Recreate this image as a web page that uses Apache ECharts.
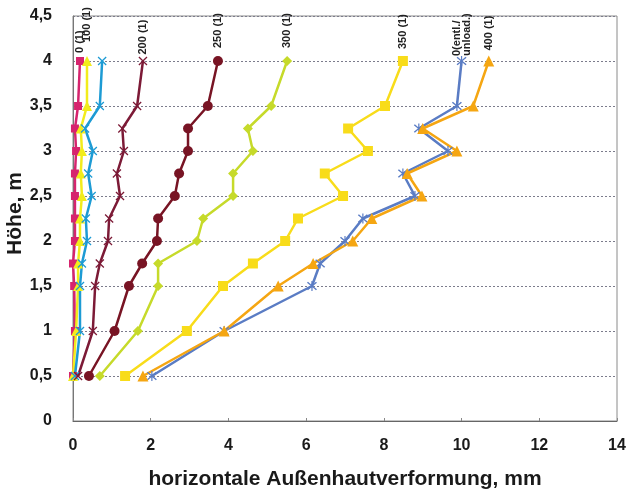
<!DOCTYPE html>
<html>
<head>
<meta charset="utf-8">
<script src="https://cdn.jsdelivr.net/npm/echarts@6/dist/echarts.min.js"></script>
<style>
  html, body { margin: 0; padding: 0; background: #fff; }
  #chart { width: 630px; height: 495px; }
</style>
</head>
<body>
<div id="chart"></div>
<script>
// Measurement heights (m) shared by every load step
const heights = [0.5, 1, 1.5, 1.75, 2, 2.25, 2.5, 2.75, 3, 3.25, 3.5, 4];

// Horizontal deformation of the outer skin (mm) per load step
const s0      = [0, 0.05, 0.03, 0.0, 0.05, 0.05, 0.05, 0.05, 0.08, 0.05, 0.13, 0.18];
const s100    = [0, 0.08, 0.13, 0.13, 0.18, 0.18, 0.23, 0.2, 0.23, 0.2, 0.36, 0.36];
const s150    = [0.05, 0.18, 0.18, 0.23, 0.36, 0.33, 0.48, 0.39, 0.51, 0.31, 0.69, 0.75];
const s200    = [0.13, 0.51, 0.57, 0.69, 0.9, 0.93, 1.21, 1.13, 1.31, 1.27, 1.65, 1.8];
const s250    = [0.41, 1.07, 1.44, 1.78, 2.16, 2.19, 2.62, 2.73, 2.96, 2.96, 3.47, 3.73];
const s300    = [0.69, 1.67, 2.19, 2.19, 3.19, 3.35, 4.12, 4.12, 4.63, 4.5, 5.1, 5.51];
const s350    = [1.34, 2.93, 3.86, 4.63, 5.46, 5.79, 6.95, 6.48, 7.59, 7.08, 8.03, 8.49];
const sUnload = [2.03, 3.89, 6.15, 6.36, 7.0, 7.46, 8.8, 8.49, 9.65, 8.9, 9.88, 10.0];
const s400    = [1.8, 3.89, 5.28, 6.18, 7.2, 7.69, 8.98, 8.6, 9.88, 9.0, 10.3, 10.7];

// Axis ticks
const xTicks = [0, 2, 4, 6, 8, 10, 12, 14];
const yTicks = [0, 0.5, 1, 1.5, 2, 2.5, 3, 3.5, 4, 4.5];

const FONT = 'Liberation Sans, Arial, sans-serif';
const XMARK = 'path://M0,1L1,0L5,4L9,0L10,1L6,5L10,9L9,10L5,6L1,10L0,9L4,5Z';
const STAR  = 'path://M0,1L1,0L5,4L9,0L10,1L6,5L10,9L9,10L5,6L1,10L0,9L4,5Z M4.4,-1L5.6,-1L5.6,11L4.4,11Z';

// Series styling; gap/shift place the rotated name above the topmost point
const defs = [
  { name: '0 (1)',              values: s0,      color: '#d6246e', symbol: 'rect',     size: 8,  gap: 7,  shift: -3 },
  { name: '100 (1)',            values: s100,    color: '#f2ec1c', symbol: 'triangle', size: 10, gap: 12, shift: 2 },
  { name: '150 (1)',            values: s150,    color: '#1d9bd4', symbol: XMARK,      size: 9,  noLabel: true },
  { name: '200 (1)',            values: s200,    color: '#7c1a36', symbol: XMARK,      size: 9,  gap: 2,  shift: 0 },
  { name: '250 (1)',            values: s250,    color: '#781424', symbol: 'circle',   size: 10, gap: 5,  shift: 3 },
  { name: '300 (1)',            values: s300,    color: '#c6da2a', symbol: 'diamond',  size: 10, gap: 6,  shift: 2 },
  { name: '350 (1)',            values: s350,    color: '#f8dc1a', symbol: 'rect',     size: 10, gap: 5,  shift: 2 },
  { name: '0(entl./\nunload.)', values: sUnload, color: '#5a7cc4', symbol: STAR,       size: 10, gap: 0,  shift: 0 },
  { name: '400 (1)',            values: s400,    color: '#f5a612', symbol: 'triangle', size: 11, gap: 2,  shift: 3 }
];

const series = defs.map(d => ({
  name: d.name,
  type: 'line',
  symbol: d.symbol,
  symbolSize: d.size,
  lineStyle: { color: d.color, width: 2.5 },
  itemStyle: { color: d.color },
  data: d.values.map((v, i) => {
    const item = { value: [v, heights[i]] };
    if (!d.noLabel && i === heights.length - 1) {
      item.label = {
        show: true,
        position: 'top',
        distance: d.gap,
        offset: [d.shift, 0],
        rotate: 90,
        align: 'left',
        verticalAlign: 'middle',
        formatter: d.name,
        fontFamily: FONT,
        fontWeight: 'bold',
        fontSize: 11,
        lineHeight: 10,
        color: '#222'
      };
    }
    return item;
  })
}));

const chart = echarts.init(document.getElementById('chart'), null, { renderer: 'canvas' });
chart.setOption({
  animation: false,
  backgroundColor: '#fff',
  grid: {
    left: 73, right: 13, top: 16, bottom: 74,
    outerBoundsMode: 'none',
    containLabel: false,
    show: true, borderColor: '#8a8a8a', borderWidth: 1
  },
  xAxis: {
    type: 'value',
    min: xTicks[0], max: xTicks[xTicks.length - 1], interval: 2,
    name: 'horizontale Außenhautverformung, mm',
    nameLocation: 'middle',
    nameGap: 48,
    nameMoveOverlap: false,
    nameTextStyle: { fontFamily: FONT, fontSize: 21, fontWeight: 'bold', color: '#1a1a1a' },
    axisLine: { lineStyle: { color: '#666', width: 1 } },
    axisTick: { show: true, length: 3, inside: true, lineStyle: { color: '#888' } },
    splitLine: { show: false },
    axisLabel: {
      margin: 17,
      fontFamily: FONT, fontSize: 16, fontWeight: 'bold', color: '#1a1a1a'
    }
  },
  yAxis: {
    type: 'value',
    min: yTicks[0], max: yTicks[yTicks.length - 1], interval: 0.5,
    name: 'Höhe, m',
    nameLocation: 'middle',
    nameGap: 47,
    nameRotate: 90,
    nameMoveOverlap: false,
    nameTextStyle: { fontFamily: FONT, fontSize: 21, fontWeight: 'bold', color: '#1a1a1a', padding: [0, 0, 0, 10] },
    axisLine: { show: true, lineStyle: { color: '#777', width: 1 } },
    axisTick: { show: false },
    splitLine: { show: true, lineStyle: { color: '#7c7c8c', type: [2, 2], width: 1 } },
    axisLabel: {
      margin: 21,
      fontFamily: FONT, fontSize: 16, fontWeight: 'bold', color: '#1a1a1a',
      formatter: v => String(v).replace('.', ',')
    }
  },
  series: series
});
</script>
</body>
</html>
